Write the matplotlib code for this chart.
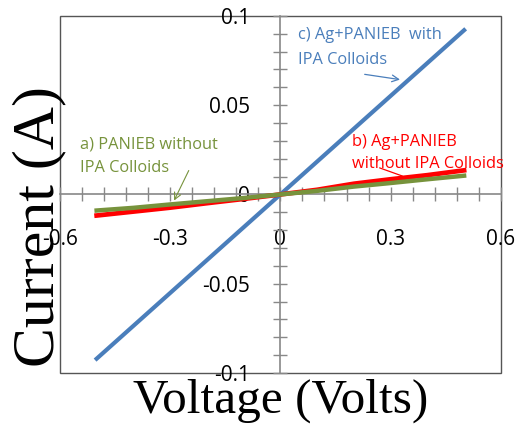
"""I-V curves for PANIEB films with and without Ag / IPA colloids."""

import matplotlib
matplotlib.use("Agg")
import matplotlib.pyplot as plt
import matplotlib.ticker as mticker
from matplotlib.patches import Rectangle

COLORS = {
    "blue": "#4A7EBB",
    "red": "#FF0000",
    "green": "#77933C",
    "axis": "#888888",
}

voltage = [-0.5, -0.4, -0.3, -0.2, -0.1, 0.0, 0.1, 0.2, 0.3, 0.4, 0.5]
current_a = [-0.009, -0.0075, -0.0056, -0.0038, -0.002, 0.0,
             0.002, 0.0044, 0.0064, 0.0085, 0.0105]
current_b = [-0.0118, -0.0096, -0.0074, -0.0049, -0.0025, 0.0,
             0.0026, 0.006, 0.0085, 0.0108, 0.0135]
current_c = [-0.092, -0.0736, -0.0552, -0.0368, -0.0184, 0.0,
             0.0184, 0.0368, 0.0552, 0.0736, 0.092]

plt.rcParams.update({
    "font.family": ["Open Sans", "DejaVu Sans"],
    "font.size": 12,
})

fig = plt.figure(figsize=(5.3, 4.3), dpi=100)
ax = fig.add_axes([0.113, 0.1326, 0.832, 0.8304])

ax.plot(voltage, current_c, color=COLORS["blue"], linewidth=3, zorder=3)
ax.plot(voltage, current_b, color=COLORS["red"], linewidth=3.4, zorder=3)
ax.plot(voltage, current_a, color=COLORS["green"], linewidth=3.2, zorder=4)

ax.set_xlim(-0.6, 0.6)
ax.set_ylim(-0.1, 0.1)

# axes crossing at the origin, plus the outer frame
for side in ("top", "right"):
    ax.spines[side].set_visible(False)
for side in ("left", "bottom"):
    ax.spines[side].set_position(("data", 0))
    ax.spines[side].set_color(COLORS["axis"])
    ax.spines[side].set_linewidth(1.2)
ax.add_patch(Rectangle((0, 0), 1, 1, transform=ax.transAxes, fill=False,
                       edgecolor="#555555", linewidth=1.0, clip_on=False,
                       zorder=0))

ax.xaxis.set_major_locator(mticker.FixedLocator([-0.6, -0.3, 0, 0.3, 0.6]))
ax.xaxis.set_minor_locator(mticker.MultipleLocator(0.06))
ax.yaxis.set_major_locator(mticker.MultipleLocator(0.05))
ax.yaxis.set_minor_locator(mticker.MultipleLocator(0.01))
ax.xaxis.set_major_formatter(mticker.FuncFormatter(lambda v, p: f"{v:g}"))
ax.yaxis.set_major_formatter(mticker.FuncFormatter(lambda v, p: f"{v:g}"))

ax.tick_params(which="both", direction="inout", color=COLORS["axis"],
               width=1.0, labelsize=15)
ax.tick_params(which="major", length=10)
ax.tick_params(which="minor", length=10)
ax.tick_params(axis="x", pad=20)
ax.tick_params(axis="y", pad=17)

ax.set_xlabel("Voltage (Volts)", family="Liberation Serif", fontsize=35.5)
ax.set_ylabel("Current (A)", family="Liberation Serif", fontsize=43)
ax.xaxis.set_label_coords(0.5, -0.015)
ax.yaxis.set_label_coords(0.014, 0.41)

# annotation labels and their pointer arrows
ax.text(0.047, 0.0822, "c) Ag+PANIEB  with\nIPA Colloids",
        color=COLORS["blue"], fontsize=11.8, va="center", linespacing=1.75)
ax.annotate("", xy=(0.333, 0.0641), xytext=(0.222, 0.0675),
            arrowprops=dict(arrowstyle="->", color=COLORS["blue"], lw=0.9))

ax.text(0.194, 0.0232, "b) Ag+PANIEB\nwithout IPA Colloids",
        color=COLORS["red"], fontsize=11.8, va="center", linespacing=1.45)
ax.annotate("", xy=(0.339, 0.0098), xytext=(0.263, 0.0154),
            arrowprops=dict(arrowstyle="-", color=COLORS["red"], lw=0.9))

ax.text(-0.546, 0.0215, "a) PANIEB without\nIPA Colloids",
        color=COLORS["green"], fontsize=11.8, va="center", linespacing=1.65)
ax.annotate("", xy=(-0.2925, -0.0048), xytext=(-0.246, 0.0148),
            arrowprops=dict(arrowstyle="->", color=COLORS["green"], lw=0.8))

fig.savefig("out.png")
plt.close(fig)
